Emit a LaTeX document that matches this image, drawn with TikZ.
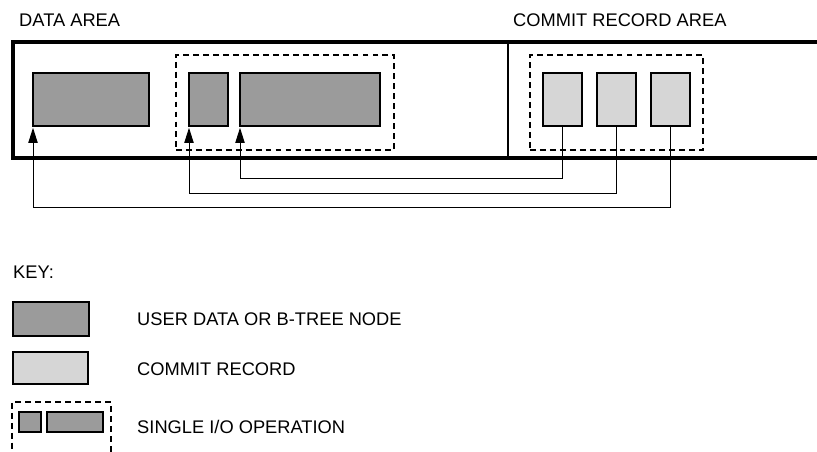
\documentclass[tikz,border=0pt]{standalone}
\usepackage{fontspec}
\setmainfont{Liberation Sans}
\usetikzlibrary{arrows.meta}
\definecolor{darkfill}{HTML}{9B9B9B}
\definecolor{lightfill}{HTML}{D6D6D6}
\begin{document}
\begin{tikzpicture}[x=0.03cm,y=-0.03cm,
  sz/.style 2 args={minimum width=#1*0.03cm, minimum height=#2*0.03cm},
  blk/.style={draw=black, line width=1.3pt, inner sep=0pt, outer sep=0pt, anchor=north west},
  datablk/.style={blk, fill=darkfill},
  commitblk/.style={blk, fill=lightfill},
  iobox/.style={draw=black, dashed, dash pattern=on 5pt off 3.5pt, line width=1.1pt, inner sep=0pt, outer sep=0pt, anchor=north west},
  lbl/.style={anchor=base west, inner sep=0pt, font=\fontsize{15.6}{18}\selectfont},
  conn/.style={draw=black, line width=0.8pt},
  arr/.style={conn, shorten >=1.5pt, -{Triangle[length=13pt, width=8pt]}}
]
\useasboundingbox (0,0) rectangle (817,452);
\clip (0,0) rectangle (817,452);

% labels
\node[lbl] (tdata) at (19,27) {DATA AREA};
\node[lbl] (tcommit) at (513,27) {COMMIT RECORD AREA};

% outer storage area
\coordinate (otr) at (825,42);
\coordinate (otl) at (13,42);
\coordinate (obl) at (13,158);
\coordinate (obr) at (825,158);
\draw[line width=2.9pt, line join=miter] (otr) -- (otl) -- (obl) -- (obr);
\coordinate (divt) at (508,42);
\coordinate (divb) at (508,158);
\draw[line width=0.9pt] (divt) -- (divb);

% I/O groups
\node[iobox, sz={218}{95}] (g1) at (176,55) {};
\node[iobox, sz={173}{95}] (g2) at (530,55) {};

% data blocks
\node[datablk, sz={116}{53}] (d1) at (33,73) {};
\node[datablk, sz={39}{53}] (d2) at (189,73) {};
\node[datablk, sz={140}{53}] (d3) at (240,73) {};

% commit records
\node[commitblk, sz={39}{53}] (c1) at (543,73) {};
\node[commitblk, sz={39}{53}] (c2) at (597,73) {};
\node[commitblk, sz={39}{53}] (c3) at (651,73) {};

% connectors
\draw[arr] (c1.south) -- (c1.south |- 0,178) -| (d3.south west);
\draw[arr] (c2.south) -- (c2.south |- 0,193) -| (d2.south west);
\draw[arr] (c3.south) -- (c3.south |- 0,207) -| (d1.south west);

% key
\node[lbl] (tkey) at (13,278) {KEY:};
\node[datablk, sz={76}{34}] (k1) at (13,302) {};
\node[lbl] (tk1) at (137,325) {USER DATA OR B-TREE NODE};
\node[commitblk, sz={75}{32}] (k2) at (13,352) {};
\node[lbl] (tk2) at (137,375) {COMMIT RECORD};
\node[iobox, sz={99}{70}] (kg) at (12,402) {};
\node[datablk, sz={22}{20}] (ks1) at (19,412) {};
\node[datablk, sz={56}{20}] (ks2) at (47,412) {};
\node[lbl] (tk3) at (137,433) {SINGLE I/O OPERATION};
\end{tikzpicture}
\end{document}
